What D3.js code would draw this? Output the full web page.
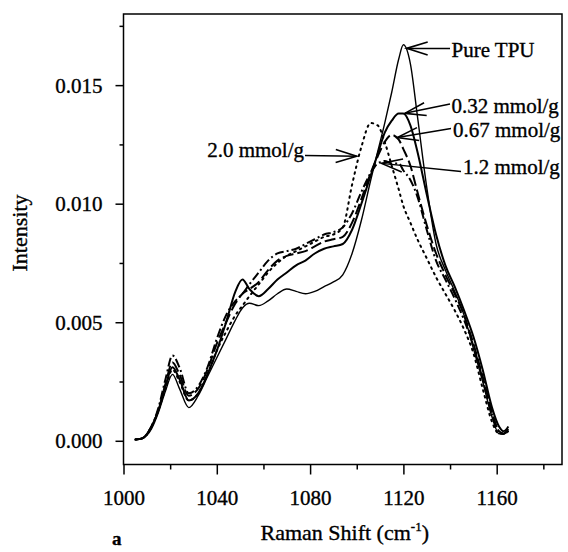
<!DOCTYPE html>
<html><head><meta charset="utf-8">
<script src="https://cdn.jsdelivr.net/npm/d3@7"></script>
<style>
html,body{margin:0;padding:0;background:#fff;}
svg{display:block;}
svg text{font-family:"Liberation Serif","Times New Roman",Times,"DejaVu Serif",serif !important;fill:#000;stroke:#000;stroke-width:0.35px;}
</style></head>
<body>
<svg id="chart" width="568" height="552"></svg>
<script>
// ---- data ----
const shift = [1005,1008,1012,1015,1018,1021,1024,1028,1032,1036,1040,1044,1048,1051,1054,1058,1062,1066,1070,1074,1078,1082,1086,1090,1094,1098,1102,1106,1109,1112,1115,1118,1120,1123,1126,1130,1134,1138,1142,1146,1150,1154,1158,1161,1163,1165];
const pureTPU = [0.00005,0.0001,0.0005,0.0012,0.0021,0.0028,0.0022,0.0014,0.0019,0.0027,0.0035,0.0043,0.0051,0.0056,0.0058,0.0057,0.0059,0.0062,0.0064,0.0063,0.0062,0.0063,0.0065,0.0067,0.0070,0.0079,0.0093,0.0110,0.0122,0.0134,0.0147,0.0161,0.0167,0.0159,0.0137,0.0107,0.0083,0.0072,0.0063,0.0053,0.0039,0.0025,0.0010,0.0003,0.0003,0.0005];
const s032 = [0.00005,0.0001,0.0006,0.0013,0.0023,0.0031,0.0026,0.0017,0.0020,0.0028,0.0038,0.0050,0.0063,0.0068,0.0064,0.0061,0.0064,0.0068,0.0071,0.0074,0.0076,0.0079,0.0081,0.0082,0.0083,0.0089,0.0100,0.0112,0.0121,0.0130,0.0135,0.0138,0.0138,0.0133,0.0122,0.0104,0.0087,0.0074,0.0065,0.0055,0.0044,0.0030,0.0014,0.0006,0.0004,0.0006];
const s067 = [0.00005,0.0001,0.0006,0.0013,0.0024,0.0033,0.0028,0.0019,0.0022,0.0030,0.0041,0.0050,0.0058,0.0062,0.0064,0.0067,0.0072,0.0076,0.0078,0.0079,0.0080,0.0082,0.0084,0.0085,0.0086,0.0092,0.0102,0.0113,0.0120,0.0126,0.0129,0.0127,0.0123,0.0116,0.0105,0.0091,0.0079,0.0070,0.0062,0.0053,0.0041,0.0027,0.0012,0.0004,0.0003,0.0005];
const s12 = [0.00005,0.0001,0.0006,0.0014,0.0026,0.0036,0.0031,0.0020,0.0023,0.0031,0.0043,0.0053,0.0059,0.0062,0.0066,0.0071,0.0076,0.0079,0.0080,0.0081,0.0083,0.0085,0.0087,0.0088,0.0090,0.0096,0.0105,0.0113,0.0117,0.0118,0.0117,0.0117,0.0114,0.0110,0.0103,0.0089,0.0076,0.0068,0.0060,0.0051,0.0040,0.0026,0.0011,0.0004,0.0003,0.0005];
const s20 = [0.00005,0.0001,0.0006,0.0013,0.0022,0.0030,0.0025,0.0017,0.0020,0.0028,0.0038,0.0046,0.0053,0.0057,0.0061,0.0066,0.0071,0.0075,0.0078,0.0080,0.0082,0.0084,0.0086,0.0087,0.0090,0.0108,0.0124,0.0134,0.0133,0.0126,0.0116,0.0106,0.0099,0.0092,0.0085,0.0077,0.0069,0.0062,0.0055,0.0047,0.0037,0.0022,0.0008,0.0003,0.0003,0.0004];

const seriesNames = ["Pure TPU","0.32 mmol/g","0.67 mmol/g","1.2 mmol/g","2.0 mmol/g"];
const seriesValues = [pureTPU, s032, s067, s12, s20];
const xMajorTicks = [1000,1040,1080,1120,1160];
const xMinorTicks = [1020,1060,1100,1140,1180];
const yMajorTicks = [0.000,0.005,0.010,0.015];
const yMinorTicks = [0.0025,0.0075,0.0125,0.0175];
// arrow tips in data units [shift, intensity]
const arrowTips = [[1121.4,0.01655],[1120.6,0.01381],[1117.4,0.01279],[1110.6,0.0117],[1100,0.0120]];

// ---- layout ----
const FONT = '"Liberation Serif","Times New Roman",Times,"DejaVu Serif",serif';
const svg = d3.select("#chart").attr("font-family",FONT);
const L = 123.5, R = 562, T = 14, B = 464.5;
const x = d3.scaleLinear().domain([1000,1188]).range([L,R]);
const y = d3.scaleLinear().domain([-0.001,0.018]).range([B,T]);

const styles = [
  {w:1.4, dash:null},
  {w:2.0, dash:null},
  {w:2.0, dash:"11,4"},
  {w:2.0, dash:"9,3,2,3"},
  {w:2.0, dash:"1.6,4.5", cap:"round"}
];

const line = d3.line().x(d=>x(d[0])).y(d=>y(d[1])).curve(d3.curveMonotoneX);
seriesValues.forEach((vals,i)=>{
  const pts = shift.map((s,j)=>[s,vals[j]]);
  svg.append("path").datum(pts).attr("d",line)
    .attr("fill","none").attr("stroke","#000")
    .attr("stroke-width",styles[i].w)
    .attr("stroke-dasharray",styles[i].dash)
    .attr("stroke-linecap",styles[i].cap||"butt")
    .attr("stroke-linejoin","round");
});

// frame
svg.append("rect").attr("x",L).attr("y",T).attr("width",R-L).attr("height",B-T)
  .attr("fill","none").attr("stroke","#000").attr("stroke-width",1.5);

// axes
const fs = "21px";
const gx = svg.append("g").attr("transform",`translate(0,${B})`)
  .call(d3.axisBottom(x).tickValues(xMajorTicks).tickSize(10).tickFormat(d3.format("d")));
gx.attr("font-family",FONT);
gx.select(".domain").remove();
gx.selectAll("line").attr("stroke-width",1.5);
gx.selectAll("text").attr("font-size",fs).attr("y",40.5).attr("dy",null);
const gx2 = svg.append("g").attr("transform",`translate(0,${B})`)
  .call(d3.axisBottom(x).tickValues(xMinorTicks).tickSize(5).tickFormat(""));
gx2.select(".domain").remove();
gx2.selectAll("line").attr("stroke-width",1.5);

const gy = svg.append("g").attr("transform",`translate(${L},0)`)
  .call(d3.axisLeft(y).tickValues(yMajorTicks).tickSize(8).tickPadding(13).tickFormat(d3.format(".3f")));
gy.attr("font-family",FONT);
gy.select(".domain").remove();
gy.selectAll("line").attr("stroke-width",1.5);
gy.selectAll("text").attr("font-size",fs).attr("dy","0.34em");
const gy2 = svg.append("g").attr("transform",`translate(${L},0)`)
  .call(d3.axisLeft(y).tickValues(yMinorTicks).tickSize(4).tickFormat(""));
gy2.select(".domain").remove();
gy2.selectAll("line").attr("stroke-width",1.5);

// axis titles
const xt = svg.append("text").attr("x",(L+R)/2+2).attr("y",540).attr("text-anchor","middle").attr("font-size","22px");
xt.append("tspan").text("Raman Shift (cm");
xt.append("tspan").attr("font-size","13px").attr("dy","-9").text("-1");
xt.append("tspan").attr("dy","9").text(")");
svg.append("text").attr("transform","translate(27,233) rotate(-90)").attr("text-anchor","middle")
  .attr("font-size","22px").text("Intensity");
svg.append("text").attr("x",112).attr("y",545).attr("font-size","19px").attr("font-weight","bold").text("a");

// annotations
const labelPos = [
  {tx:451.5, ty:56.5, anchor:"start", lx:450, ly:48.5},
  {tx:451.5, ty:112.5, anchor:"start", lx:450, ly:104},
  {tx:453, ty:136.5, anchor:"start", lx:451, ly:128.5},
  {tx:463, ty:174, anchor:"start", lx:461, ly:171.5},
  {tx:304, ty:157, anchor:"end", lx:305, ly:155.5}
];
seriesNames.forEach((name,i)=>{
  const p = labelPos[i];
  svg.append("text").attr("x",p.tx).attr("y",p.ty).attr("text-anchor",p.anchor)
    .attr("font-size","21px").text(name);
  const tx = x(arrowTips[i][0]), ty = y(arrowTips[i][1]);
  svg.append("line").attr("x1",p.lx).attr("y1",p.ly).attr("x2",tx).attr("y2",ty)
    .attr("stroke","#000").attr("stroke-width",1.5);
  const ang = Math.atan2(p.ly-ty, p.lx-tx);
  const hl = 22, spread = 0.3;
  const hp = d3.path();
  hp.moveTo(tx+hl*Math.cos(ang+spread), ty+hl*Math.sin(ang+spread));
  hp.lineTo(tx,ty);
  hp.lineTo(tx+hl*Math.cos(ang-spread), ty+hl*Math.sin(ang-spread));
  svg.append("path").attr("d",hp.toString()).attr("fill","none")
    .attr("stroke","#000").attr("stroke-width",1.6);
});
</script>
</body></html>
